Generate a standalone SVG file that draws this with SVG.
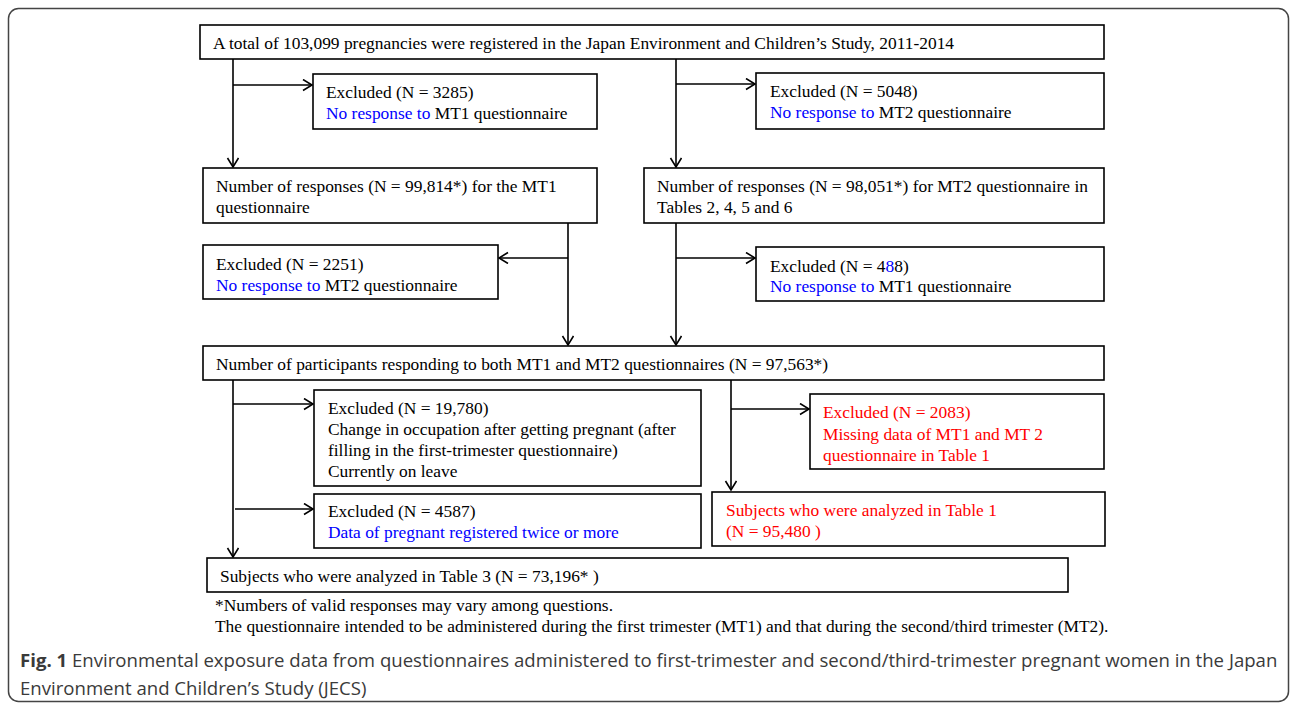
<svg xmlns="http://www.w3.org/2000/svg" width="1290" height="704" viewBox="0 0 1290 704">
<defs>
<style>
.box{fill:#fff;stroke:#000;stroke-width:1.6}
.t{font-family:"Liberation Serif","Times New Roman",serif;font-size:17.4px;fill:#000}
.b{fill:#0000ff}
.r{fill:#ff0000}
.ln{stroke:#000;stroke-width:1.6;fill:none}
.cap{font-family:"Open Sans","Noto Sans",sans-serif;font-size:18.6px;fill:#3a3a3a}
</style>
<marker id="ah" markerUnits="userSpaceOnUse" markerWidth="14" markerHeight="14" refX="10" refY="6" orient="auto">
<path d="M1,0.5 L10,6 L1,11.5" fill="none" stroke="#000" stroke-width="1.6"/>
</marker>
</defs>
<rect width="1290" height="704" fill="#fff"/>
<rect x="8.5" y="8.5" width="1280" height="693" rx="10" fill="none" stroke="#444" stroke-width="1.5"/>

<g id="connectors">
<line class="ln" x1="233" y1="59" x2="233" y2="167" marker-end="url(#ah)"/>
<line class="ln" x1="233" y1="85" x2="312" y2="85" marker-end="url(#ah)"/>
<line class="ln" x1="676" y1="59" x2="676" y2="167" marker-end="url(#ah)"/>
<line class="ln" x1="676" y1="84" x2="755" y2="84" marker-end="url(#ah)"/>
<line class="ln" x1="568" y1="223" x2="568" y2="345" marker-end="url(#ah)"/>
<line class="ln" x1="568" y1="258" x2="499" y2="258" marker-end="url(#ah)"/>
<line class="ln" x1="676" y1="223" x2="676" y2="345" marker-end="url(#ah)"/>
<line class="ln" x1="676" y1="258" x2="755" y2="258" marker-end="url(#ah)"/>
<line class="ln" x1="233" y1="380" x2="233" y2="557" marker-end="url(#ah)"/>
<line class="ln" x1="233" y1="404" x2="313" y2="404" marker-end="url(#ah)"/>
<line class="ln" x1="235" y1="509" x2="313" y2="509" marker-end="url(#ah)"/>
<line class="ln" x1="731" y1="380" x2="731" y2="490" marker-end="url(#ah)"/>
<line class="ln" x1="731" y1="409" x2="809" y2="409" marker-end="url(#ah)"/>
</g>

<g id="n-total">
<rect class="box" x="200" y="25" width="904" height="34"/>
<text class="t" x="213" y="49">A total of 103,099 pregnancies were registered in the Japan Environment and Children’s Study, 2011-2014</text>
</g>
<g id="n-ex3285">
<rect class="box" x="313" y="74" width="284" height="55"/>
<text class="t" x="326" y="98">Excluded (N = 3285)</text>
<text class="t" x="326" y="119"><tspan class="b">No response to</tspan> MT1 questionnaire</text>
</g>
<g id="n-ex5048">
<rect class="box" x="756" y="73" width="348" height="56"/>
<text class="t" x="770" y="97">Excluded (N = 5048)</text>
<text class="t" x="770" y="118"><tspan class="b">No response to</tspan> MT2 questionnaire</text>
</g>
<g id="n-mt1">
<rect class="box" x="203" y="168" width="394" height="55"/>
<text class="t" x="216" y="192">Number of responses (N = 99,814*) for the MT1</text>
<text class="t" x="216" y="213">questionnaire</text>
</g>
<g id="n-mt2">
<rect class="box" x="644" y="168" width="460" height="55"/>
<text class="t" x="657" y="192">Number of responses (N = 98,051*) for MT2 questionnaire in</text>
<text class="t" x="657" y="213">Tables 2, 4, 5 and 6</text>
</g>
<g id="n-ex2251">
<rect class="box" x="203" y="245" width="295" height="54"/>
<text class="t" x="216" y="270">Excluded (N = 2251)</text>
<text class="t" x="216" y="291"><tspan class="b">No response to</tspan> MT2 questionnaire</text>
</g>
<g id="n-ex488">
<rect class="box" x="756" y="247" width="348" height="54"/>
<text class="t" x="770" y="272">Excluded (N = 4<tspan class="b">8</tspan>8)</text>
<text class="t" x="770" y="292"><tspan class="b">No response to</tspan> MT1 questionnaire</text>
</g>
<g id="n-both">
<rect class="box" x="203" y="346" width="901" height="34"/>
<text class="t" x="216" y="370">Number of participants responding to both MT1 and MT2 questionnaires (N = 97,563*)</text>
</g>
<g id="n-ex19780">
<rect class="box" x="314" y="390" width="387" height="96"/>
<text class="t" x="328" y="414">Excluded (N = 19,780)</text>
<text class="t" x="328" y="435">Change in occupation after getting pregnant (after</text>
<text class="t" x="328" y="456">filling in the first-trimester questionnaire)</text>
<text class="t" x="328" y="477">Currently on leave</text>
</g>
<g id="n-ex2083">
<rect class="box" x="810" y="394" width="294" height="75" stroke="#333"/>
<text class="t r" x="823" y="418">Excluded (N = 2083)</text>
<text class="t r" x="823" y="440">Missing data of MT1 and MT 2</text>
<text class="t r" x="823" y="461">questionnaire in Table 1</text>
</g>
<g id="n-ex4587">
<rect class="box" x="314" y="494" width="387" height="54"/>
<text class="t" x="328" y="517">Excluded (N = 4587)</text>
<text class="t b" x="328" y="538">Data of pregnant registered twice or more</text>
</g>
<g id="n-table1">
<rect class="box" x="712" y="492" width="393" height="54"/>
<text class="t r" x="726" y="516">Subjects who were analyzed in Table 1</text>
<text class="t r" x="726" y="537">(N = 95,480 )</text>
</g>
<g id="n-table3">
<rect class="box" x="207" y="558" width="861" height="34"/>
<text class="t" x="220" y="582">Subjects who were analyzed in Table 3 (N = 73,196* )</text>
</g>

<g id="notes">
<text class="t" x="215" y="611">*Numbers of valid responses may vary among questions.</text>
<text class="t" x="215" y="632">The questionnaire intended to be administered during the first trimester (MT1) and that during the second/third trimester (MT2).</text>
<text class="cap" x="20" y="667"><tspan font-weight="bold">Fig. 1</tspan> Environmental exposure data from questionnaires administered to first-trimester and second/third-trimester pregnant women in the Japan</text>
<text class="cap" x="20" y="695">Environment and Children’s Study (JECS)</text>
</g>
</svg>
